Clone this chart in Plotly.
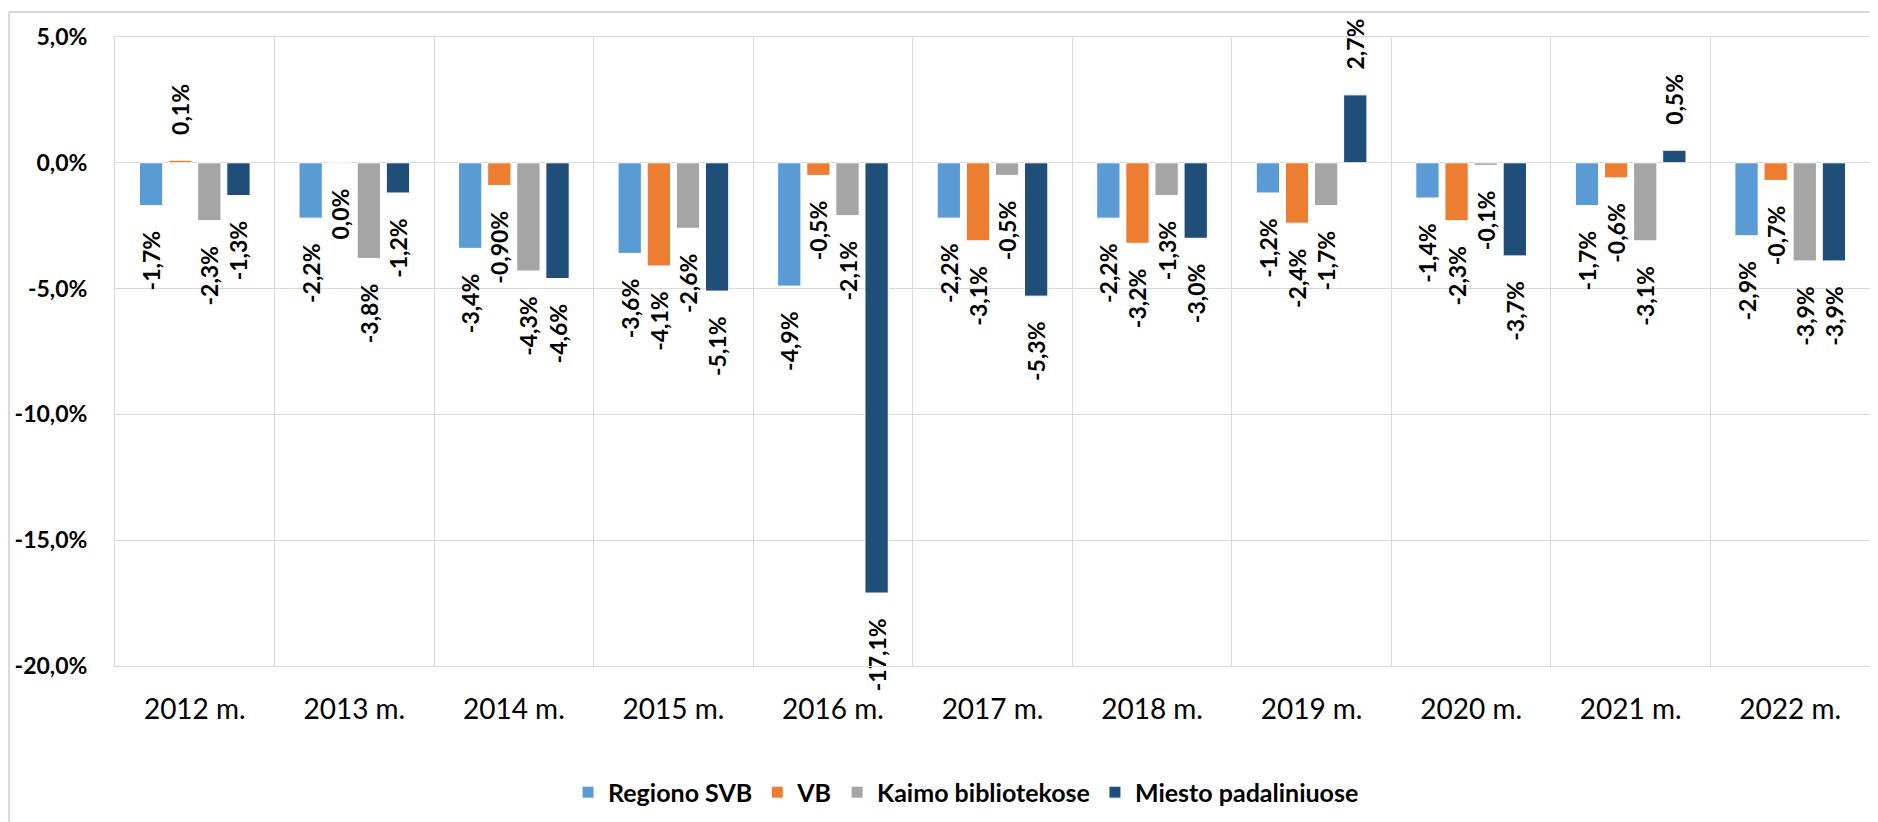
import plotly.graph_objects as go

categories = ["2012 m.", "2013 m.", "2014 m.", "2015 m.", "2016 m.", "2017 m.",
              "2018 m.", "2019 m.", "2020 m.", "2021 m.", "2022 m."]

series_names = ["Regiono SVB", "VB", "Kaimo bibliotekose", "Miesto padaliniuose"]

regiono_svb = [-1.7, -2.2, -3.4, -3.6, -4.9, -2.2, -2.2, -1.2, -1.4, -1.7, -2.9]
vb = [0.1, -0.02, -0.9, -4.1, -0.5, -3.1, -3.2, -2.4, -2.3, -0.6, -0.7]
kaimo = [-2.3, -3.8, -4.3, -2.6, -2.1, -0.5, -1.3, -1.7, -0.1, -3.1, -3.9]
miesto = [-1.3, -1.2, -4.6, -5.1, -17.1, -5.3, -3.0, 2.7, -3.7, 0.5, -3.9]

regiono_svb_labels = ["-1,7%", "-2,2%", "-3,4%", "-3,6%", "-4,9%", "-2,2%", "-2,2%", "-1,2%", "-1,4%", "-1,7%", "-2,9%"]
vb_labels = ["0,1%", "0,0%", "-0,90%", "-4,1%", "-0,5%", "-3,1%", "-3,2%", "-2,4%", "-2,3%", "-0,6%", "-0,7%"]
kaimo_labels = ["-2,3%", "-3,8%", "-4,3%", "-2,6%", "-2,1%", "-0,5%", "-1,3%", "-1,7%", "-0,1%", "-3,1%", "-3,9%"]
miesto_labels = ["-1,3%", "-1,2%", "-4,6%", "-5,1%", "-17,1%", "-5,3%", "-3,0%", "2,7%", "-3,7%", "0,5%", "-3,9%"]

colors = ["#5B9BD5", "#ED7D31", "#A5A5A5", "#1F4E79"]

y_tickvals = [5, 0, -5, -10, -15, -20]
y_ticktext = ["5,0%", "0,0%", "-5,0%", "-10,0%", "-15,0%", "-20,0%"]

FONT = "Lato"
OFF = 8  # browser body margin
W, H = 1878 - OFF, 822 - OFF
ML, MR, MT, MB = 114 - OFF, 7, 37 - OFF, 153

PAD = "\u00a0\u00a0\u00a0\u00a0"


def padded(labels, values):
    out = []
    for lab, v in zip(labels, values):
        out.append(PAD + lab if v > 0 else lab + PAD)
    return out


fig = go.Figure()
for name, vals, labs, col in zip(series_names,
                                 [regiono_svb, vb, kaimo, miesto],
                                 [regiono_svb_labels, vb_labels, kaimo_labels, miesto_labels],
                                 colors):
    fig.add_trace(go.Bar(
        name=name, x=categories, y=vals,
        text=padded(labs, vals), textposition="outside", textangle=-90,
        constraintext="none", cliponaxis=False,
        textfont=dict(family=FONT, size=23, color="#000000", weight="bold"),
        marker=dict(color=col, line=dict(color="#FFFFFF", width=1)),
        hoverinfo="skip",
    ))

pw = W - ML - MR
ph = H - MT - MB
# outer chart border (left + top visible)
fig.add_shape(type="rect", xref="paper", yref="paper",
              x0=(8 - OFF - ML) / pw, x1=(W + 10 - ML) / pw,
              y0=-(H + 10 - MT - ph) / ph, y1=1 + (MT - (12 - OFF)) / ph,
              line=dict(color="#D9D9D9", width=2), layer="below")

legend_cx = 966 - OFF
legend_cy = 796 - OFF

fig.update_layout(
    width=W, height=H,
    margin=dict(l=ML, r=MR, t=MT, b=MB),
    paper_bgcolor="white", plot_bgcolor="white",
    barmode="group", bargap=0.27, bargroupgap=0.2,
    font=dict(family=FONT, color="#000000"),
    showlegend=True,
    legend=dict(orientation="h", x=(legend_cx - ML) / pw, xanchor="center",
                y=-(legend_cy - (MT + ph)) / ph, yanchor="middle",
                font=dict(family=FONT, size=25, color="#000000", weight="bold"),
                itemwidth=30, traceorder="normal"),
    xaxis=dict(type="category", tickson="boundaries", showgrid=True,
               gridcolor="#D9D9D9", gridwidth=1, ticks="",
               showline=True, linecolor="#D9D9D9", mirror=True,
               tickfont=dict(family=FONT, size=28, color="#000000"),
               ticklabelstandoff=18),
    yaxis=dict(range=[-20, 5], tickvals=y_tickvals, ticktext=y_ticktext,
               showgrid=True, gridcolor="#D9D9D9", gridwidth=1,
               zeroline=True, zerolinecolor="#D9D9D9", zerolinewidth=1,
               showline=True, linecolor="#D9D9D9", mirror=True, ticks="",
               tickfont=dict(family=FONT, size=23, color="#000000", weight="bold"),
               ticklabelstandoff=22),
)

fig.write_html("out.html")
